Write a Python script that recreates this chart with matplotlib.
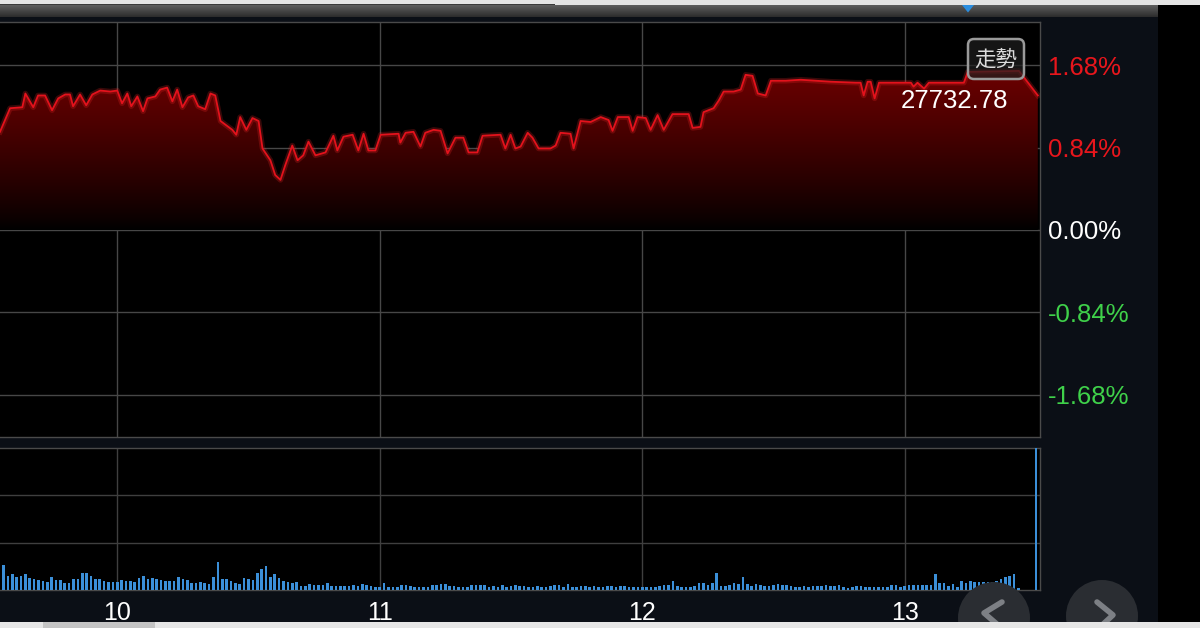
import numpy as np
import matplotlib
matplotlib.use("Agg")
import matplotlib.pyplot as plt
from matplotlib.patches import Polygon, Rectangle, FancyBboxPatch, Circle

plt.rcParams['font.family'] = ['Liberation Sans', 'Noto Sans CJK TC', 'DejaVu Sans']

# ---------------- data ----------------
# intraday change of the index (%), time = minutes after 09:00
line_minutes = [33.2, 35.5, 38.3, 39.0, 40.8, 41.9, 43.5, 45.1, 46.5, 48.1, 49.2, 49.9, 51.5, 52.9,
                54.3, 56.1, 58.4, 60.0, 61.1, 62.3, 63.2, 64.6, 65.9, 66.9, 68.7, 69.8, 71.4, 72.6,
                73.7, 74.9, 76.2, 77.4, 78.5, 80.1, 81.3, 82.4, 83.6, 86.3, 87.2, 88.1, 89.5, 90.9,
                92.3, 93.2, 95.0, 96.1, 97.3, 98.4, 100.0, 101.2, 102.5, 103.7, 105.3, 107.6, 109.4,
                110.3, 111.7, 113.8, 115.1, 116.3, 117.4, 119.0, 120.2, 124.3, 124.7, 125.9, 127.7,
                129.3, 130.4, 132.3, 133.9, 135.5, 137.3, 139.1, 140.3, 142.3, 143.5, 147.6, 148.7,
                149.9, 151.0, 152.2, 153.8, 154.9, 156.3, 159.0, 160.2, 161.3, 163.6, 164.3, 165.9,
                168.2, 170.5, 172.3, 173.2, 174.4, 176.9, 177.8, 178.9, 180.8, 181.9, 183.5, 184.9,
                186.9, 190.6, 191.5, 193.3, 194.0, 196.3, 197.5, 198.6, 200.9, 202.5, 203.6, 205.2,
                206.4, 208.2, 209.4, 212.8, 216.2, 223.1, 228.8, 229.9, 230.6, 231.5, 232.2, 233.1,
                234.1, 241.4, 242.0, 242.9, 244.4, 245.5, 253.5, 254.4, 266.1, 270.4]
line_pct = [1.00, 1.24, 1.25, 1.39, 1.25, 1.37, 1.37, 1.22, 1.34, 1.38, 1.38, 1.26, 1.38, 1.27,
            1.38, 1.42, 1.41, 1.42, 1.29, 1.39, 1.26, 1.36, 1.21, 1.34, 1.36, 1.43, 1.45, 1.31,
            1.43, 1.25, 1.35, 1.37, 1.26, 1.23, 1.39, 1.37, 1.11, 1.02, 0.97, 1.15, 1.02, 1.14,
            1.11, 0.83, 0.71, 0.56, 0.51, 0.66, 0.86, 0.71, 0.76, 0.90, 0.76, 0.79, 0.96,
            0.81, 0.95, 0.97, 0.81, 0.98, 0.81, 0.81, 0.97, 0.98, 0.89, 0.99, 1.00,
            0.85, 0.99, 1.02, 1.01, 0.78, 0.94, 0.94, 0.79, 0.79, 0.96, 0.97, 0.83,
            0.97, 0.83, 0.85, 0.99, 0.94, 0.83, 0.83, 0.86, 0.99, 0.98, 0.83, 1.11,
            1.10, 1.15, 1.12, 1.01, 1.15, 1.15, 1.01, 1.15, 1.14, 1.02, 1.17, 1.02,
            1.18, 1.18, 1.04, 1.05, 1.20, 1.24, 1.32, 1.41, 1.41, 1.43, 1.58, 1.57,
            1.39, 1.37, 1.52, 1.52, 1.53, 1.51, 1.50, 1.50, 1.37, 1.51, 1.51, 1.34,
            1.50, 1.50, 1.46, 1.50, 1.44, 1.50, 1.50, 1.61, 1.62, 1.37]

# one-minute volume bars (relative units), first bar at 09:33
vol_first_minute = 33
volume = [27, 25, 14, 16, 13, 14, 16, 12, 11, 10, 9, 8, 13, 10, 10, 7, 7, 11, 11, 17, 17, 14, 11, 11,
          9, 8, 8, 8, 10, 9, 9, 8, 12, 14, 11, 12, 11, 10, 9, 9, 9, 13, 11, 10, 7, 7, 8, 7, 6, 13,
          28, 11, 11, 9, 7, 6, 12,
          11, 10, 17, 21, 24, 13, 16, 12, 9, 8, 7, 8, 4, 4, 6, 5, 5, 5, 7, 4, 4, 4, 4, 4, 5, 4, 6,
          5, 4, 3, 3, 7, 3, 3, 3, 5, 5, 4, 3, 3, 3, 3, 5, 5, 6, 6, 4, 4, 3, 3, 3, 5, 5, 5, 5,
          3, 4, 3, 5, 3, 4, 5, 4, 4, 3, 3, 4, 3, 3, 4, 5, 5, 3, 6, 3, 3, 4, 4, 3, 4, 3, 3, 4, 4,
          3, 4, 4, 3, 3, 3,
          3, 3, 3, 3, 4, 5, 5, 9, 4, 3, 3, 3, 4, 7, 7, 5, 7, 17, 4, 4, 5, 7, 6, 13, 6, 4, 6, 5, 4,
          4, 5, 6, 5, 5, 4, 3, 3, 4, 3, 4, 4, 4, 5, 4, 4,
          5, 3, 2, 3, 4, 4, 3, 3, 3, 3, 3, 3, 5, 5, 3, 4, 5, 5, 5, 5, 5, 5, 16, 7, 7, 4, 6, 3, 9, 7,
          9, 8, 8, 8, 8, 8, 9, 11, 13, 14, 16, 2,
          0, 0, 0, 300]

pct_levels = [1.68, 0.84, 0.00, -0.84, -1.68]
pct_labels = ['1.68%', '0.84%', '0.00%', '-0.84%', '-1.68%']
pct_colors = ['#e8161c', '#e8161c', '#ffffff', '#3fd14a', '#3fd14a']
hour_ticks = [60, 120, 180, 240]
hour_labels = ['10', '11', '12', '13']
last_price = '27732.78'
button_text = '走勢'

# ---------------- figure ----------------
W, H = 1200, 628
fig = plt.figure(figsize=(12, 6.28), dpi=100)
NAVY = '#0b0f16'
fig.patch.set_facecolor(NAVY)

bg = fig.add_axes([0, 0, 1, 1], zorder=0)
bg.set_xlim(0, W); bg.set_ylim(H, 0); bg.axis('off')
# top chrome
bg.add_patch(Rectangle((0, 0), W, 5, color='#e4e4e4', lw=0))
bg.add_patch(Rectangle((0, 3.8), 555, 1.4, color='#3a3a3a', lw=0))
grad = np.linspace(0, 1, 50).reshape(-1, 1)
bg.imshow(grad, cmap=matplotlib.colors.LinearSegmentedColormap.from_list('g', ['#5e5e5e', '#2c2c2c']),
          extent=[0, 1158, 17, 5], aspect='auto', zorder=1)
bg.add_patch(Rectangle((1158, 5), W - 1158, 617, color='#000000', lw=0, zorder=2))
bg.set_xlim(0, W); bg.set_ylim(H, 0)

x0, x1 = 33.2, 270.9
ax = fig.add_axes([0, (H - 437) / H, 1040 / W, 415 / H], zorder=1)
vax = fig.add_axes([0, (H - 590) / H, 1040 / W, 142 / H], zorder=1)

for a in (ax, vax):
    a.set_facecolor('#000000')
    a.set_xlim(x0, x1)
    for s in a.spines.values():
        s.set_color('#4a4a4a'); s.set_linewidth(1)
    a.spines['left'].set_visible(False)

# main price panel
ax.set_ylim(-2.108, 2.118)
ax.set_xticks(hour_ticks)
ax.tick_params(axis='x', length=0, labelbottom=False)
ax.yaxis.tick_right()
ax.set_yticks(pct_levels)
ax.set_yticklabels(pct_labels)
ax.tick_params(axis='y', length=0, pad=6, labelsize=18.5)
for lab, c in zip(ax.get_yticklabels(), pct_colors):
    lab.set_color(c)
ax.grid(True, color='#474747', lw=1)
ax.set_axisbelow(True)

verts = [(line_minutes[0], 0)] + list(zip(line_minutes, line_pct)) + [(line_minutes[-1], 0)]
poly = Polygon(verts, closed=True, facecolor='none', edgecolor='none')
ax.add_patch(poly)
g = np.linspace(0, 1, 256)
img = np.zeros((256, 1, 4))
img[:, 0, 0] = 0.44 * g ** 0.85
img[:, 0, 3] = 1.0
im = ax.imshow(img, origin='lower', extent=[x0, x1, 0, 1.7], aspect='auto', zorder=2)
im.set_clip_path(poly)
ax.set_xlim(x0, x1); ax.set_ylim(-2.108, 2.118)
ax.plot(line_minutes, line_pct, color='#ff2a2a', lw=4, alpha=0.22, zorder=3, solid_joinstyle='round')
ax.plot(line_minutes, line_pct, color='#e3121c', lw=1.3, zorder=4, solid_joinstyle='round')

# volume panel
vol_minutes = [vol_first_minute + i for i in range(len(volume))]
vax.bar(vol_minutes, volume, width=0.6, color='#3b8fd8', zorder=3)
vax.set_ylim(0, 142)
vax.set_yticks([142 / 3, 2 * 142 / 3])
vax.tick_params(axis='y', length=0, labelleft=False, labelright=False)
vax.set_xticks(hour_ticks)
vax.set_xticklabels(hour_labels)
vax.tick_params(axis='x', length=0, pad=8, labelsize=18, labelcolor='white')
vax.grid(True, color='#3f3f3f', lw=1)
vax.set_axisbelow(True)

# foreground overlay
fg = fig.add_axes([0, 0, 1, 1], zorder=5)
fg.set_xlim(0, W); fg.set_ylim(H, 0); fg.axis('off')
fg.patch.set_alpha(0)
fg.add_patch(Polygon([(962, 5), (974, 5), (968, 12.5)], closed=True, color='#2b8ee0', lw=0))
fg.add_patch(FancyBboxPatch((968, 39), 56, 40, boxstyle='round,pad=0,rounding_size=6',
                            facecolor=(0.12, 0.12, 0.12, 0.7), edgecolor='#9a9a9a', lw=1.8))
fg.text(996, 60, button_text, color='#dcdcdc', fontsize=15.5, ha='center', va='center',
        family=['Noto Sans CJK TC', 'DejaVu Sans'])
fg.text(955, 101, last_price, color='white', fontsize=18.5, ha='center', va='center')
# navigation buttons
for cx, cy in [(994, 618), (1102, 616)]:
    fg.add_patch(Circle((cx, cy), 36, color='#2a2d32', lw=0, zorder=1))
fg.plot([1002, 984, 998], [602, 613, 625], color='#7d8085', lw=4, solid_capstyle='round', zorder=2)
fg.plot([1097, 1113, 1100], [602, 615, 627], color='#7d8085', lw=4, solid_capstyle='round', zorder=2)
fg.add_patch(Rectangle((0, 622), W, 6, color='#e6e6e6', lw=0, zorder=3))
fg.add_patch(Rectangle((43, 622), 112, 6, color='#c4c4c4', lw=0, zorder=4))

fig.savefig('out.png', dpi=100, facecolor=fig.get_facecolor())
